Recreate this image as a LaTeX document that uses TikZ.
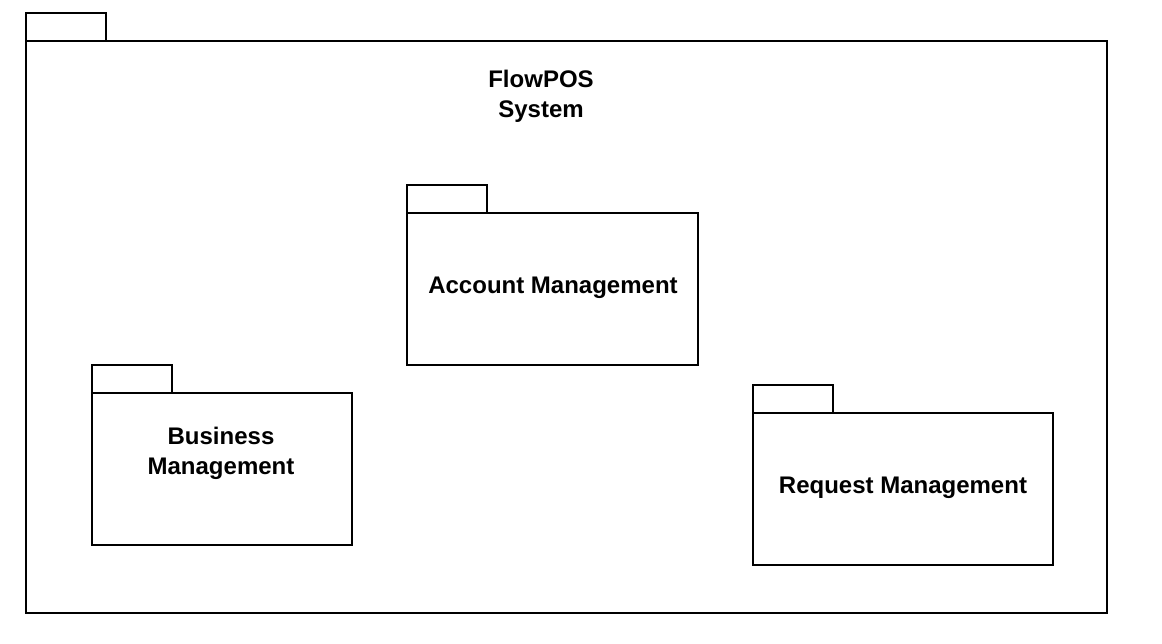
\documentclass[tikz,border=0pt]{standalone}
\usepackage{fontspec}
\setmainfont{Liberation Sans}
\begin{document}
\begin{tikzpicture}[x=1pt,y=-1pt,
  pkg/.style={draw=black,line width=1.5pt,fill=white},
  lbl/.style={font=\fontsize{24}{30}\selectfont\bfseries,align=center,inner sep=0pt}]
\useasboundingbox (0,0) rectangle (1162,644);
% outer package
\draw[pkg] (26,13) rectangle (106,41);
\draw[pkg] (26,41) rectangle (1107,613);
\node[lbl] (sys) at (541,96.5) {FlowPOS\\System};
% account
\draw[pkg] (407,185) rectangle (487,213);
\draw[pkg] (407,213) rectangle (698,365);
\node[lbl] (acc) at (553,288) {Account Management};
% business
\draw[pkg] (92,365) rectangle (172,393);
\draw[pkg] (92,393) rectangle (352,545);
\node[lbl] (bus) at (221,453.5) {Business\\Management};
% request
\draw[pkg] (753,385) rectangle (833,413);
\draw[pkg] (753,413) rectangle (1053,565);
\node[lbl] (req) at (903,488) {Request Management};
\end{tikzpicture}
\end{document}
